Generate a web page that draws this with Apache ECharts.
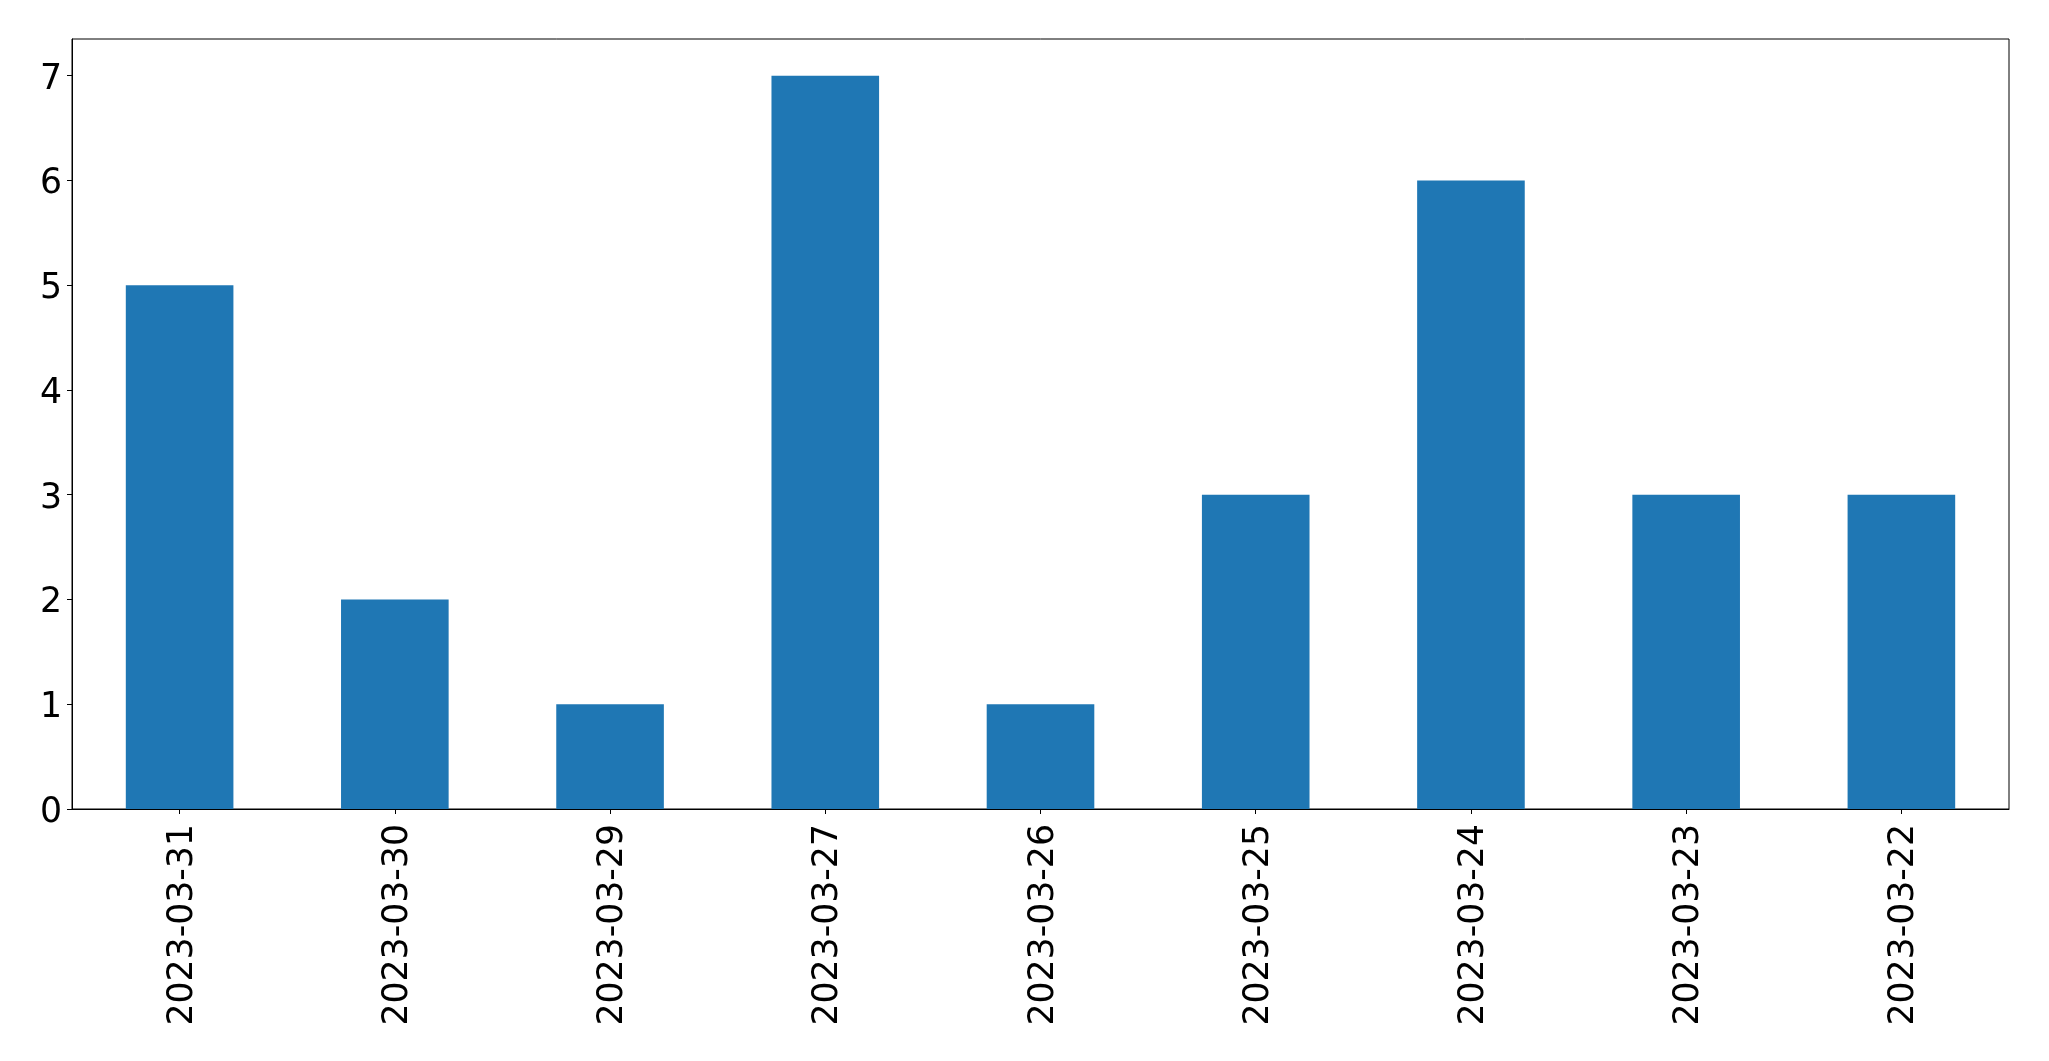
<!DOCTYPE html>
<html>
<head>
<meta charset="utf-8">
<script src="https://cdn.jsdelivr.net/npm/echarts@6/dist/echarts.min.js"></script>
<style>
html,body{margin:0;padding:0;background:#fff;}
#chart{width:2049px;height:1061px;}
</style>
</head>
<body>
<div id="chart"></div>
<script>
const categories = ['2023-03-31','2023-03-30','2023-03-29','2023-03-27','2023-03-26','2023-03-25','2023-03-24','2023-03-23','2023-03-22'];
const values = [5, 2, 1, 7, 1, 3, 6, 3, 3];
const yTicks = [0, 1, 2, 3, 4, 5, 6, 7];

const chart = echarts.init(document.getElementById('chart'));
const font = 'DejaVu Sans';
chart.setOption({
  animation: false,
  backgroundColor: '#ffffff',
  grid: {
    left: 72, right: 40, top: 39, bottom: 252,
    show: true, borderColor: '#000', borderWidth: 1, backgroundColor: 'transparent'
  },
  xAxis: {
    type: 'category',
    data: categories,
    boundaryGap: true,
    axisLine: { show: true, lineStyle: { color: '#000', width: 1 } },
    axisTick: { show: true, alignWithLabel: true, length: 5, lineStyle: { color: '#000', width: 1 } },
    axisLabel: {
      rotate: 90, color: '#000', fontSize: 34.7, fontFamily: font, margin: 15, interval: 0,
      formatter: function (v) { return '{a|' + v + '}'; },
      rich: { a: { fontSize: 34.7, fontFamily: font, color: '#000', padding: [6, 0, 0, 0] } }
    },
    splitLine: { show: false }
  },
  yAxis: {
    type: 'value',
    min: 0,
    max: 7.35,
    interval: 1,
    axisLine: { show: true, lineStyle: { color: '#000', width: 1 } },
    axisTick: { show: true, length: 5, lineStyle: { color: '#000', width: 1 } },
    axisLabel: {
      color: '#000', fontSize: 34.7, fontFamily: font, margin: 10, showMaxLabel: false,
      formatter: function (v) { return yTicks.indexOf(v) >= 0 ? '{a|' + v + '}' : ''; },
      rich: { a: { fontSize: 34.7, fontFamily: font, color: '#000', padding: [8, 0, 0, 0] } }
    },
    splitLine: { show: false }
  },
  series: [{
    type: 'bar',
    data: values,
    barWidth: '50%',
    itemStyle: { color: '#1f77b4' }
  }]
});
</script>
</body>
</html>
